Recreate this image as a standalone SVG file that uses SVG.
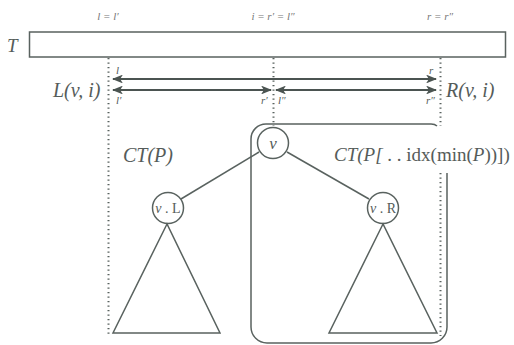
<svg xmlns="http://www.w3.org/2000/svg" width="514" height="345" viewBox="0 0 514 345">
<style>
.ln{fill:none;stroke:#59625f;stroke-width:1.5}
.dot{fill:none;stroke:#59625f;stroke-width:2;stroke-dasharray:1.3 3.2}
.arr{fill:none;stroke:#4b5451;stroke-width:2.2}
.nd{fill:#fff;stroke:#59625f;stroke-width:1.5}
text{font-family:'Liberation Serif','Times New Roman',serif;font-style:italic;fill:#555c5a}
.r{font-style:normal}
.big{font-size:20px}
.sm{font-size:11px}
.tp{font-size:11px;fill:#777}
</style>
<defs>
<marker id="ah" viewBox="0 0 10 8" refX="9" refY="4" markerWidth="5" markerHeight="4" orient="auto-start-reverse" markerUnits="strokeWidth">
<path d="M0,0 L10,4 L0,8 L2.5,4 Z" fill="#4b5451"/>
</marker>
</defs>
<rect width="514" height="345" fill="#fff"/>
<g id="array-T">
<rect x="29.5" y="32" width="476" height="25" class="ln" stroke-width="1.3"/>
<text x="7" y="52" font-size="19">T</text>
</g>
<g id="top-labels">
<text x="108" y="20" class="tp" text-anchor="middle">l = l′</text>
<text x="273" y="20" class="tp" text-anchor="middle">i = r′ = l″</text>
<text x="440" y="20" class="tp" text-anchor="middle">r = r″</text>
</g>
<g id="bounds">
<path d="M108.5,58 V336" class="dot"/>
<path d="M273.5,58 V126" class="dot"/>
<path d="M440.5,58 V126 M440.5,173 V336" class="dot"/>
</g>
<g id="intervals">
<path d="M113,79 H436" class="arr" marker-start="url(#ah)" marker-end="url(#ah)"/>
<path d="M113,90 H271" class="arr" marker-start="url(#ah)" marker-end="url(#ah)"/>
<path d="M276,90 H436" class="arr" marker-start="url(#ah)" marker-end="url(#ah)"/>
<text x="116" y="74" class="sm">l</text>
<text x="429" y="74" class="sm">r</text>
<text x="116" y="104" class="sm">l′</text>
<text x="261" y="104" class="sm">r′</text>
<text x="278" y="104" class="sm">l″</text>
<text x="426" y="104" class="sm">r″</text>
<text x="53" y="97" class="big">L(v, i)</text>
<text x="446" y="97" class="big">R(v, i)</text>
</g>
<g id="subtree-box">
<path d="M447,173 V327 A16,16 0 0 1 431,343 H267 A16,16 0 0 1 251,327 V139 A15,15 0 0 1 266,124 H431 Q435,124 437,126" class="ln"/>
<text x="334" y="161" font-size="19">CT(P[<tspan class="r"> . . idx(min(</tspan>P<tspan class="r">))])</tspan></text>
</g>
<g id="ctp-label">
<text x="123" y="162" class="big">CT(P)</text>
</g>
<g id="connectors">
<path d="M259,152 L181,199" class="ln"/>
<path d="M287,152 L369,199" class="ln"/>
</g>
<g id="node-v">
<circle cx="273" cy="143" r="15.5" class="nd"/>
<text x="273" y="148.5" font-size="17" text-anchor="middle">v</text>
</g>
<g id="node-vL">
<circle cx="168" cy="208" r="15.5" class="nd"/>
<text x="168" y="213" font-size="14" text-anchor="middle">v<tspan class="r"> . L</tspan></text>
</g>
<g id="node-vR">
<circle cx="383" cy="208" r="15.5" class="nd"/>
<text x="383" y="213" font-size="14" text-anchor="middle">v<tspan class="r"> . R</tspan></text>
</g>
<g id="tree-L">
<path d="M167,224 L113,333 H220 Z" class="ln"/>
</g>
<g id="tree-R">
<path d="M383,224 L329,333 H437 Z" class="ln"/>
</g>
</svg>
